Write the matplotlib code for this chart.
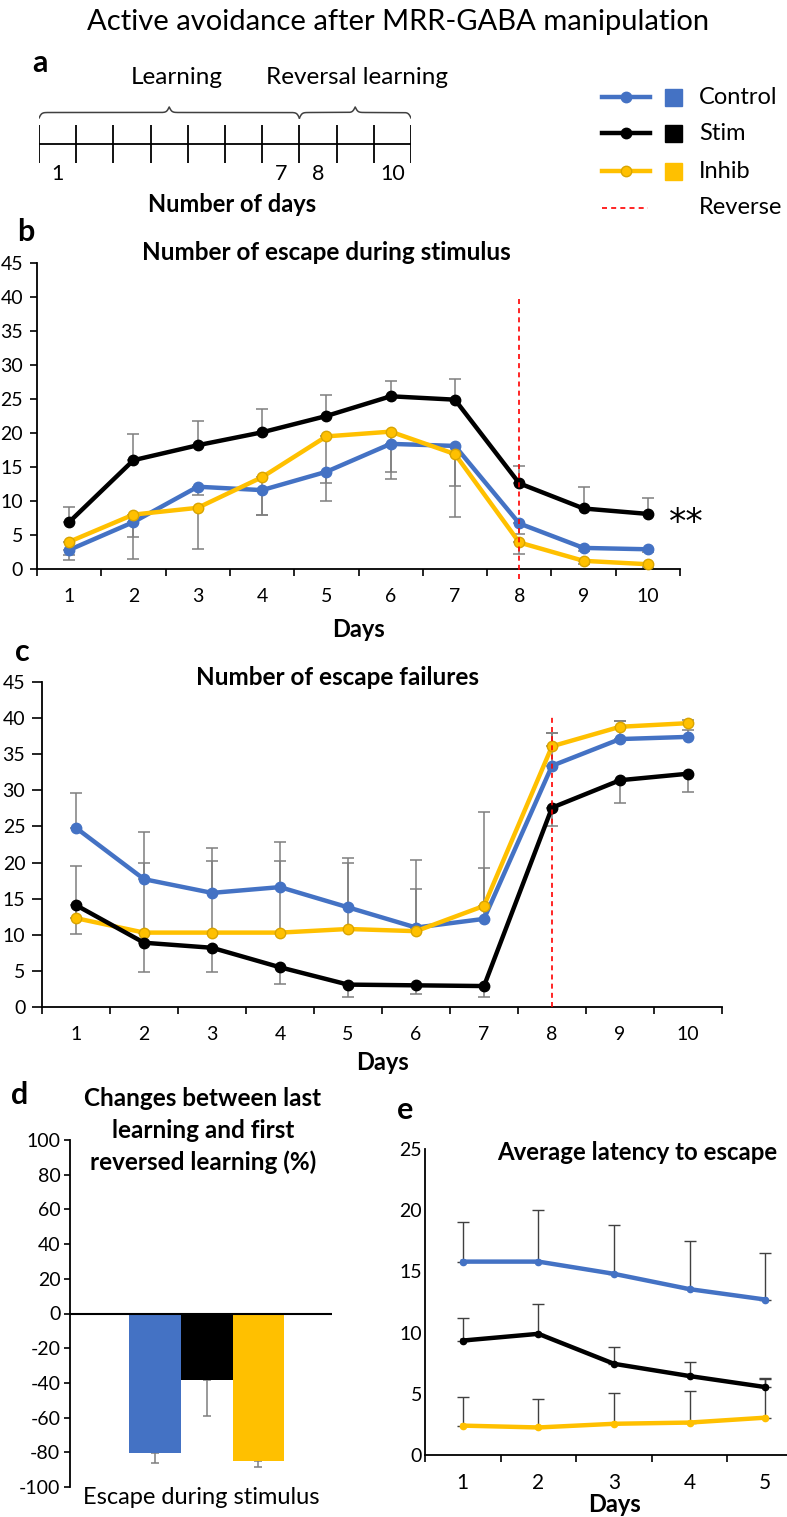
import numpy as np
import matplotlib
matplotlib.use('Agg')
import matplotlib.pyplot as plt
from matplotlib.patches import Rectangle

W, H = 787, 1517
plt.rcParams['font.family'] = ['Lato', 'DejaVu Sans']
plt.rcParams['axes.unicode_minus'] = False

BLUE = '#4472C4'
BLACK = '#000000'
GOLD = '#FFC000'
GOLD_EDGE = '#D9A400'
ERR = '#7F7F7F'

# ---- data ----
days10 = [1, 2, 3, 4, 5, 6, 7, 8, 9, 10]
days5 = [1, 2, 3, 4, 5]
groups = ['Control', 'Stim', 'Inhib']

# b: number of escapes during stimulus
b_control = [2.8, 6.9, 12.1, 11.6, 14.3, 18.4, 18.1, 6.7, 3.1, 2.9]
b_stim = [6.9, 16.0, 18.2, 20.1, 22.5, 25.4, 24.9, 12.6, 8.9, 8.1]
b_inhib = [4.0, 8.0, 9.0, 13.5, 19.5, 20.2, 16.9, 3.9, 1.2, 0.7]
b_control_err_lo = [1.5, 2.2, 1.2, 3.6, 4.3, 4.2, 5.9, 1.5, 0.4, 0.4]
b_stim_err_hi = [2.2, 3.9, 3.6, 3.4, 3.1, 2.3, 3.0, 2.6, 3.1, 2.4]
b_inhib_err_lo = [2.0, 6.5, 6.1, 5.6, 6.8, 7.0, 9.3, 1.7, 0.4, 0.4]

# c: number of escape failures
c_control = [24.8, 17.7, 15.8, 16.6, 13.8, 11.0, 12.2, 33.4, 37.1, 37.4]
c_stim = [14.1, 8.9, 8.2, 5.5, 3.1, 3.0, 2.9, 27.6, 31.4, 32.3]
c_inhib = [12.3, 10.3, 10.3, 10.3, 10.8, 10.5, 14.0, 36.1, 38.8, 39.3]
c_control_err_hi = [4.8, 6.6, 6.2, 6.3, 6.8, 9.4, 7.1, 4.5, 2.5, 1.0]
c_stim_err_lo = [4.0, 4.1, 3.4, 2.3, 1.7, 1.2, 1.5, 2.6, 3.2, 2.5]
c_inhib_err_hi = [7.2, 9.6, 9.9, 9.9, 9.1, 5.8, 13.0, 1.9, 0.8, 0.4]

# d: change between last learning and first reversed learning (%)
d_values = [-80.4, -38.1, -85.2]
d_err = [5.8, 20.9, 3.3]

# e: average latency to escape
e_control = [15.8, 15.8, 14.8, 13.55, 12.7]
e_stim = [9.35, 9.9, 7.45, 6.45, 5.55]
e_inhib = [2.4, 2.25, 2.55, 2.65, 3.05]
e_control_err = [3.2, 4.2, 4.0, 3.9, 3.8]
e_stim_err = [1.85, 2.45, 1.4, 1.15, 0.75]
e_inhib_err = [2.3, 2.35, 2.5, 2.55, 3.2]

# a: schedule
n_days = 10
learning_days = 7
timeline_labels = {1: '1', 7: '7', 8: '8', 10: '10'}

fig = plt.figure(figsize=(W / 100, H / 100), dpi=100)


def px_axes(x0, y0, x1, y1):
    return fig.add_axes([x0 / W, 1 - y1 / H, (x1 - x0) / W, (y1 - y0) / H])


def ftext(x, y, s, **kw):
    kw.setdefault('ha', 'center')
    kw.setdefault('va', 'center')
    fig.text(x / W, 1 - y / H, s, **kw)


def style_axes(ax, ndays, ymax, ystep):
    ax.patch.set_alpha(0)
    for s in ['top', 'right']:
        ax.spines[s].set_visible(False)
    for s in ['left', 'bottom']:
        ax.spines[s].set_linewidth(1.3)
    ax.set_xlim(0.5, ndays + 0.5)
    ax.set_ylim(0, ymax)
    ax.set_yticks(np.arange(0, ymax + 1, ystep))
    ax.set_xticks(np.arange(1, ndays + 1))
    ax.set_xticks(np.arange(0.5, ndays + 1), minor=True)
    ax.tick_params(axis='x', which='major', length=0, pad=14, labelsize=14)
    ax.tick_params(axis='x', which='minor', length=5, width=1.2)
    ax.tick_params(axis='y', length=5, width=1.2, pad=5, labelsize=14)


def draw_lines(ax, x, series, lw=3.2, ms=7.5):
    for vals, lo, hi, color, ecolor in series:
        ax.errorbar(x, vals, yerr=[lo, hi], fmt='none', ecolor=ERR,
                    elinewidth=1.1, capsize=4, capthick=1.1, zorder=2,
                    clip_on=False)
    for vals, lo, hi, color, ecolor in series:
        ax.plot(x, vals, color=color, lw=lw, marker='o', ms=ms,
                mfc=color, mec=ecolor, mew=1, zorder=3, clip_on=False)


# ---- panel a ----
ax_a = px_axes(39, 60, 411, 215)
ax_a.set_xlim(0, n_days)
ax_a.set_ylim(215, 60)
ax_a.axis('off')
ax_a.hlines(144, 0, n_days, color='black', lw=1.3)
ax_a.vlines(np.arange(n_days + 1), 125, 163, color='black', lw=1.3)


def brace(ax, xa, xb, y_end, depth, beta=28):
    n = 401
    xs = np.linspace(xa, xb, n)
    half = xs[: n // 2 + 1]
    yh = (1 / (1 + np.exp(-beta * (half - half[0])))
          + 1 / (1 + np.exp(-beta * (half - half[-1]))))
    ys = np.concatenate((yh, yh[-2::-1]))
    ax.plot(xs, y_end - (ys - 0.5) * depth, color='#404040', lw=1.1)


brace(ax_a, 0, learning_days, 118, 11)
brace(ax_a, learning_days, n_days, 118, 11)
ax_a.text(3.7, 78, 'Learning', ha='center', va='center', fontsize=17.5)
ax_a.text(8.55, 78, 'Reversal learning', ha='center', va='center', fontsize=17.5)
for d, lab in timeline_labels.items():
    ax_a.text(d - 0.5, 174, lab, ha='center', va='center', fontsize=15.5)
ax_a.text(5.2, 205, 'Number of days', ha='center', va='center',
          fontsize=17, fontweight='bold')

# legend
ax_l = px_axes(595, 80, 787, 225)
ax_l.set_xlim(595, 787)
ax_l.set_ylim(225, 80)
ax_l.axis('off')
leg_y = [97, 133, 171]
leg_cols = [(BLUE, BLUE), (BLACK, BLACK), (GOLD, GOLD_EDGE)]
for name, y, (c, ec) in zip(groups, leg_y, leg_cols):
    ax_l.plot([602, 650], [y, y], color=c, lw=3.2)
    ax_l.plot([626], [y], marker='o', ms=7.5, color=c, mec=ec)
    ax_l.add_patch(Rectangle((665, y - 8.5), 17, 17, color=c))
    ax_l.text(699, y, name, ha='left', va='center', fontsize=17)
ax_l.plot([602, 648], [208, 208], color='red', lw=1.2, ls=(0, (3, 2.5)))
ax_l.text(699, 208, 'Reverse', ha='left', va='center', fontsize=17)

# ---- panel b ----
ax_b = px_axes(37, 263, 680, 569)
style_axes(ax_b, n_days, 45, 5)
zeros10 = [0] * n_days
draw_lines(ax_b, days10, [
    (b_control, b_control_err_lo, zeros10, BLUE, BLUE),
    (b_inhib, b_inhib_err_lo, zeros10, GOLD, GOLD_EDGE),
    (b_stim, zeros10, b_stim_err_hi, BLACK, BLACK),
])
ax_b.vlines(8, -1.5, 40.2, color='red', lw=1.2, ls=(0, (3, 2.5)),
            zorder=4, clip_on=False)
ax_b.text(10.6, 6.8, '**', ha='center', va='center', fontsize=25,
          family='DejaVu Sans', clip_on=False)
ax_b.text(0.5, -(630 - 569) / 306, 'Days', transform=ax_b.transAxes,
          ha='center', va='center', fontsize=17, fontweight='bold')

# ---- panel c ----
ax_c = px_axes(42, 682, 722, 1007)
style_axes(ax_c, n_days, 45, 5)
ax_c.tick_params(axis='y', length=7)
draw_lines(ax_c, days10, [
    (c_control, zeros10, c_control_err_hi, BLUE, BLUE),
    (c_inhib, zeros10, c_inhib_err_hi, GOLD, GOLD_EDGE),
    (c_stim, c_stim_err_lo, zeros10, BLACK, BLACK),
])
ax_c.vlines(8, 0, 40.2, color='red', lw=1.2, ls=(0, (3, 2.5)), zorder=4)
ax_c.text(0.5, -(1062 - 1007) / 325, 'Days', transform=ax_c.transAxes,
          ha='center', va='center', fontsize=17, fontweight='bold')

# ---- panel d ----
ax_d = px_axes(70, 1140, 332, 1487)
ax_d.patch.set_alpha(0)
xpos = np.arange(len(groups))
ax_d.bar(xpos, d_values, width=1.0, color=[BLUE, BLACK, GOLD], zorder=2)
ax_d.errorbar(xpos, d_values, yerr=[d_err, [0] * len(groups)], fmt='none',
              ecolor=ERR, elinewidth=1.1, capsize=3, capthick=1.1, zorder=1)
ax_d.set_xlim(-1.64, 3.42)
ax_d.set_ylim(-100, 100)
ax_d.set_yticks(np.arange(-100, 101, 20))
ax_d.set_xticks([])
for s in ['top', 'right', 'bottom']:
    ax_d.spines[s].set_visible(False)
ax_d.spines['left'].set_linewidth(1.3)
ax_d.axhline(0, color='black', lw=1.5, zorder=3)
ax_d.tick_params(axis='y', length=4, width=1.2, pad=3, labelsize=14)
ax_d.text(0.5, -(1497 - 1487) / 347, 'Escape during stimulus',
          transform=ax_d.transAxes, ha='center', va='center', fontsize=17)

# ---- panel e ----
ax_e = px_axes(425, 1149, 803, 1455)
style_axes(ax_e, 5, 25, 5)
ax_e.tick_params(axis='y', length=0, pad=2, labelsize=14)
ax_e.tick_params(axis='x', which='major', labelsize=15, pad=13)
zeros5 = [0] * 5
for vals, err in [(e_control, e_control_err), (e_stim, e_stim_err),
                  (e_inhib, e_inhib_err)]:
    ax_e.errorbar(days5, vals, yerr=[zeros5, err], fmt='none', ecolor='#404040',
                  elinewidth=1.0, capsize=4, capthick=1.0, zorder=2)
for vals, c in [(e_control, BLUE), (e_stim, BLACK), (e_inhib, GOLD)]:
    ax_e.plot(days5, vals, color=c, lw=3.2, marker='o', ms=4.5, zorder=3)
ax_e.text(0.5, -(1505 - 1455) / 306, 'Days', transform=ax_e.transAxes,
          ha='center', va='center', fontsize=17, fontweight='bold')

# ---- texts ----
ftext(398, 22, 'Active avoidance after MRR-GABA manipulation', fontsize=21)
ftext(40, 63, 'a', fontsize=22, fontweight='bold')
ftext(26, 232, 'b', fontsize=22, fontweight='bold')
ftext(22, 652, 'c', fontsize=22, fontweight='bold')
ftext(20, 1095, 'd', fontsize=22, fontweight='bold')
ftext(405, 1110, 'e', fontsize=22, fontweight='bold')
ftext(326, 253, 'Number of escape during stimulus', fontsize=17.5, fontweight='bold')
ftext(337, 678, 'Number of escape failures', fontsize=17.5, fontweight='bold')
ftext(203, 1098, 'Changes between last', fontsize=17.5, fontweight='bold')
ftext(203, 1131, 'learning and first', fontsize=17.5, fontweight='bold')
ftext(203, 1162, 'reversed learning (%)', fontsize=17.5, fontweight='bold')
ftext(637, 1152, 'Average latency to escape', fontsize=17.3, fontweight='bold')

fig.savefig('out.png', dpi=100)
